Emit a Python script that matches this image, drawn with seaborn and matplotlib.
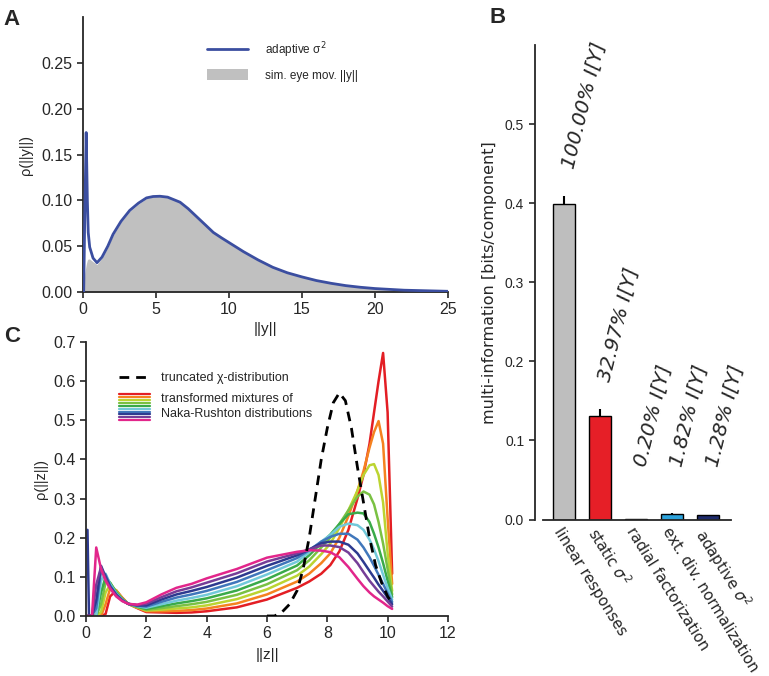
import numpy as np
import pandas as pd
import matplotlib
matplotlib.use("Agg")
import matplotlib.pyplot as plt
import seaborn as sns
from matplotlib.legend_handler import HandlerBase
from matplotlib.lines import Line2D

# ---- data: panel A (density of ||y||) ---------------------------------------
y_norm = [0.0, 0.05, 0.12, 0.22, 0.3, 0.36, 0.46, 0.69, 0.96, 1.3, 1.7, 2.06,
          2.6, 3.2, 3.8, 4.35, 4.8, 5.27, 5.8, 6.65, 7.2, 7.8, 8.4, 8.93, 9.5,
          10, 11, 12, 13, 14, 15, 16, 17, 18, 19, 20, 22, 25]
adaptive_pdf = [0.0, 0.0, 0.08, 0.174, 0.1, 0.065, 0.049, 0.037, 0.032, 0.038,
                0.05, 0.063, 0.077, 0.089, 0.097, 0.1027, 0.1042, 0.1045, 0.1035,
                0.098, 0.091, 0.082, 0.073, 0.065, 0.059, 0.054, 0.044, 0.035,
                0.027, 0.021, 0.0165, 0.0125, 0.0095, 0.007, 0.0052, 0.0038,
                0.002, 0.0008]
eyemov_hist = [0.0, 0.0, 0.02, 0.03, 0.035, 0.036, 0.036, 0.033, 0.03, 0.037,
               0.049, 0.062, 0.076, 0.088, 0.096, 0.102, 0.104, 0.1045, 0.103,
               0.098, 0.091, 0.082, 0.073, 0.065, 0.059, 0.054, 0.044, 0.035,
               0.027, 0.021, 0.0165, 0.0125, 0.0095, 0.007, 0.0052, 0.0038,
               0.002, 0.0008]

# ---- data: panel B (multi-information) --------------------------------------
methods = ["linear responses", r"static $\sigma^2$", "radial factorization",
           "ext. div. normalization", r"adaptive $\sigma^2$"]
mi_values = [0.399, 0.131, 0.0008, 0.0073, 0.0051]
mi_err = [0.010, 0.009, 0.0, 0.0005, 0.001]
mi_percent = ["100.00% I[Y]", "32.97% I[Y]", "0.20% I[Y]", "1.82% I[Y]",
              "1.28% I[Y]"]
bar_colors = ["#bebebe", "#e61f27", "#4f9a3a", "#2da3dc", "#1e2b6c"]

# ---- data: panel C (density of ||z||) ---------------------------------------
z_norm = [0.05, 0.1, 0.2, 0.34, 0.5, 0.65, 0.8, 1.0, 1.2, 1.4, 1.7,
          2.0, 2.5, 3.0, 3.5, 4.0, 5.0, 6.0, 7.0, 7.4, 7.8, 8.1, 8.4, 8.7,
          9.0, 9.2, 9.4, 9.55, 9.7, 9.85, 10.0, 10.15]
z_red = [0, 0, 0, 0, 0, 0.005, 0.05, 0.065, 0.047, 0.031, 0.02,
         0.010, 0.009, 0.008, 0.009, 0.012, 0.022, 0.042, 0.072, 0.088, 0.108,
         0.13, 0.165, 0.22, 0.3, 0.36, 0.44, 0.52, 0.6, 0.672, 0.52, 0.108]
z_orange = [0, 0, 0, 0, 0, 0.03, 0.07, 0.066, 0.046, 0.031, 0.021,
            0.012, 0.012, 0.013, 0.015, 0.019, 0.032, 0.055, 0.088, 0.108, 0.135,
            0.16, 0.2, 0.255, 0.32, 0.37, 0.43, 0.47, 0.498, 0.44, 0.25, 0.082]
z_yellow = [0, 0, 0, 0, 0.01, 0.06, 0.08, 0.064, 0.045, 0.031, 0.022,
            0.014, 0.016, 0.019, 0.022, 0.027, 0.043, 0.068, 0.103, 0.126, 0.158,
            0.185, 0.225, 0.27, 0.32, 0.36, 0.385, 0.388, 0.36, 0.29, 0.16, 0.064]
z_lgreen = [0, 0, 0, 0, 0.03, 0.085, 0.085, 0.062, 0.044, 0.031, 0.023,
            0.016, 0.02, 0.025, 0.03, 0.036, 0.054, 0.081, 0.117, 0.142, 0.175,
            0.2, 0.235, 0.27, 0.305, 0.318, 0.31, 0.285, 0.24, 0.185, 0.12, 0.055]
z_green = [0, 0, 0, 0, 0.06, 0.1, 0.085, 0.06, 0.043, 0.031, 0.024,
           0.018, 0.025, 0.032, 0.038, 0.045, 0.065, 0.094, 0.129, 0.155, 0.186,
           0.208, 0.235, 0.26, 0.264, 0.262, 0.24, 0.21, 0.175, 0.135, 0.09, 0.048]
z_cyan = [0, 0, 0, 0, 0.09, 0.108, 0.082, 0.058, 0.042, 0.031, 0.025,
          0.021, 0.03, 0.039, 0.046, 0.054, 0.076, 0.106, 0.139, 0.163, 0.19,
          0.207, 0.228, 0.236, 0.232, 0.22, 0.195, 0.17, 0.14, 0.105, 0.072, 0.042]
z_blue = [0, 0, 0, 0.02, 0.115, 0.105, 0.078, 0.056, 0.041, 0.031, 0.026,
          0.024, 0.036, 0.047, 0.055, 0.064, 0.087, 0.117, 0.148, 0.168, 0.19,
          0.202, 0.21, 0.21, 0.195, 0.175, 0.15, 0.128, 0.105, 0.082, 0.058, 0.036]
z_navy = [0.22, 0, 0, 0.04, 0.128, 0.1, 0.075, 0.054, 0.04, 0.031, 0.027,
          0.027, 0.042, 0.055, 0.064, 0.074, 0.098, 0.128, 0.155, 0.17, 0.186,
          0.19, 0.19, 0.182, 0.16, 0.138, 0.115, 0.098, 0.08, 0.064, 0.047, 0.03]
z_purple = [0, 0, 0, 0.08, 0.125, 0.095, 0.072, 0.052, 0.039, 0.031, 0.028,
            0.031, 0.048, 0.063, 0.073, 0.085, 0.109, 0.139, 0.16, 0.17, 0.18,
            0.18, 0.176, 0.162, 0.135, 0.112, 0.09, 0.076, 0.062, 0.05, 0.037, 0.024]
z_magenta = [0, 0, 0, 0.175, 0.12, 0.09, 0.07, 0.05, 0.038, 0.031, 0.029,
             0.035, 0.055, 0.072, 0.082, 0.096, 0.12, 0.149, 0.164, 0.168, 0.167,
             0.163, 0.15, 0.125, 0.095, 0.076, 0.06, 0.05, 0.042, 0.034, 0.025, 0.018]
mixture_curves = [z_red, z_orange, z_yellow, z_lgreen, z_green, z_cyan,
                  z_blue, z_navy, z_purple, z_magenta]
mixture_colors = ["#e31e24", "#f58220", "#bcd431", "#7ac143", "#3aaa49",
                  "#72c9da", "#4077bb", "#2d3a8f", "#753e97", "#e2268b"]

chi_x = [6.0, 6.25, 6.5, 6.75, 7.0, 7.2, 7.4, 7.6, 7.8, 8.0, 8.2, 8.4, 8.6,
         8.8, 9.0, 9.2, 9.4, 9.6, 9.8, 10.0, 10.15]
chi_pdf = [0.0, 0.0, 0.01, 0.03, 0.065, 0.12, 0.2, 0.3, 0.4, 0.48, 0.545, 0.57,
           0.55, 0.48, 0.38, 0.29, 0.2, 0.13, 0.085, 0.05, 0.033]

# ---- style -----------------------------------------------------------------
sns.set_style("ticks")
plt.rcParams["font.family"] = ["Liberation Sans", "DejaVu Sans"]
plt.rcParams["axes.linewidth"] = 1.3
plt.rcParams["xtick.major.width"] = 1.2
plt.rcParams["ytick.major.width"] = 1.2
plt.rcParams["xtick.major.size"] = 4
plt.rcParams["ytick.major.size"] = 4

fig = plt.figure(figsize=(7.69, 6.76), dpi=100)
axA = fig.add_axes([0.1079, 0.568, 0.4746, 0.4068])
axC = fig.add_axes([0.1118, 0.0888, 0.4707, 0.4053])
axB = fig.add_axes([0.7061, 0.2315, 0.2445, 0.702])

# ── Panel A ─────────────────────────────────────────────────────────
axA.fill_between(y_norm, eyemov_hist, color="#c0c0c0", lw=0, zorder=1,
                 label="sim. eye mov. ||y||")
sns.lineplot(x=y_norm, y=adaptive_pdf, color="#3b4ea0", lw=2, ax=axA,
             label=r"adaptive σ$^2$", zorder=3)
axA.set_xlim(0, 25)
axA.set_ylim(0, 0.30)
axA.set_xticks([0, 5, 10, 15, 20, 25])
axA.set_yticks([0, 0.05, 0.10, 0.15, 0.20, 0.25])
axA.set_yticklabels(["0.00", "0.05", "0.10", "0.15", "0.20", "0.25"])
axA.tick_params(labelsize=11.5)
axA.set_xlabel("||y||", fontsize=11, labelpad=3)
axA.set_ylabel("ρ(||y||)", fontsize=10.5, labelpad=6)
h, l = axA.get_legend_handles_labels()
axA.legend(h[::-1], l[::-1], loc="upper left", bbox_to_anchor=(0.34, 0.915),
           frameon=False, fontsize=8.5, handlelength=3.5, handleheight=1.1,
           handletextpad=1.4, labelspacing=0.75, borderpad=0, borderaxespad=0)
sns.despine(ax=axA)

# ── Panel C ─────────────────────────────────────────────────────────
long = pd.DataFrame({
    "z": np.tile(z_norm, len(mixture_curves)),
    "pdf": np.concatenate(mixture_curves),
    "curve": np.repeat(np.arange(len(mixture_curves)), len(z_norm)),
})
sns.lineplot(data=long, x="z", y="pdf", hue="curve", palette=mixture_colors,
             estimator=None, sort=False, lw=1.8, legend=False, ax=axC)
sns.lineplot(x=chi_x, y=chi_pdf, color="black", lw=2, ax=axC, zorder=5)
axC.lines[-1].set_dashes([3.5, 2.5])
axC.set_xlim(0, 12)
axC.set_ylim(0, 0.7)
axC.set_xticks(range(0, 13, 2))
axC.set_yticks(np.arange(0, 0.71, 0.1))
axC.set_yticklabels(["0.0", "0.1", "0.2", "0.3", "0.4", "0.5", "0.6", "0.7"])
axC.tick_params(labelsize=11.5)
axC.set_xlabel("||z||", fontsize=11, labelpad=5)
axC.set_ylabel("ρ(||z||)", fontsize=10.5, labelpad=4)
sns.despine(ax=axC)


class RainbowKey:
    def __init__(self, colors):
        self.colors = colors


class RainbowHandler(HandlerBase):
    def create_artists(self, legend, orig_handle, xdescent, ydescent, width,
                       height, fontsize, trans):
        n = len(orig_handle.colors)
        arts = []
        for i, c in enumerate(orig_handle.colors):
            yy = -ydescent + height - i * height / (n - 1)
            ln = Line2D([-xdescent, -xdescent + width], [yy, yy], color=c,
                        lw=1.6, transform=trans)
            arts.append(ln)
        return arts


chi_key = Line2D([], [], color="black", lw=2, dashes=[3.5, 2.5])
legC1 = axC.legend([chi_key], ["truncated χ-distribution"], loc="upper left",
                   bbox_to_anchor=(0.09, 0.89), frameon=False, fontsize=9,
                   handlelength=2.5, handletextpad=0.9, borderpad=0,
                   borderaxespad=0)
axC.add_artist(legC1)
legC2 = axC.legend([RainbowKey(mixture_colors)],
                   ["transformed mixtures of\nNaka-Rushton distributions"],
                   handler_map={RainbowKey: RainbowHandler()}, loc="upper left",
                   bbox_to_anchor=(0.09, 0.815), frameon=False, fontsize=9,
                   handlelength=2.5, handleheight=2.9, handletextpad=0.9,
                   borderpad=0, borderaxespad=0)
legC2.get_texts()[0].set_linespacing(1.35)

# ── Panel B ─────────────────────────────────────────────────────────
sns.barplot(x=methods, y=mi_values, hue=methods, palette=bar_colors,
            saturation=1, legend=False, edgecolor="black", linewidth=1,
            width=0.6, ax=axB)
axB.errorbar(range(len(methods)), mi_values,
             yerr=[np.zeros(len(mi_err)), mi_err], fmt="none",
             ecolor="black", elinewidth=1.5, capsize=0)
for i, (v, e, txt) in enumerate(zip(mi_values, mi_err, mi_percent)):
    axB.text(i + 0.12, max(v + e + 0.035, 0.068), txt, rotation=76,
             rotation_mode="anchor", ha="left", va="center", fontsize=14.5,
             style="italic", family="DejaVu Sans")
axB.set_xlim(-0.58, 4.64)
axB.set_ylim(0, 0.6)
axB.set_yticks([0, 0.1, 0.2, 0.3, 0.4, 0.5])
axB.set_yticklabels(["0.0", "0.1", "0.2", "0.3", "0.4", "0.5"],
                    family="DejaVu Sans", fontsize=11.5)
axB.set_xticks(range(len(methods)))
axB.set_xticklabels(methods, rotation=-58, ha="left", va="top",
                    rotation_mode="anchor", family="DejaVu Sans", fontsize=10.8)
axB.tick_params(axis="x", length=0, pad=4)
axB.set_xlabel("")
axB.set_ylabel("multi-information [bits/component]", fontsize=11.5,
               family="DejaVu Sans", labelpad=6)
sns.despine(ax=axB)
axB.spines["left"].set_position(("outward", 6))

# ── panel letters ───────────────────────────────────────────────────
fig.text(0.005, 0.963, "A", fontsize=16, fontweight="bold")
fig.text(0.636, 0.966, "B", fontsize=16, fontweight="bold")
fig.text(0.005, 0.494, "C", fontsize=16, fontweight="bold")

plt.savefig("out.png", dpi=100)
